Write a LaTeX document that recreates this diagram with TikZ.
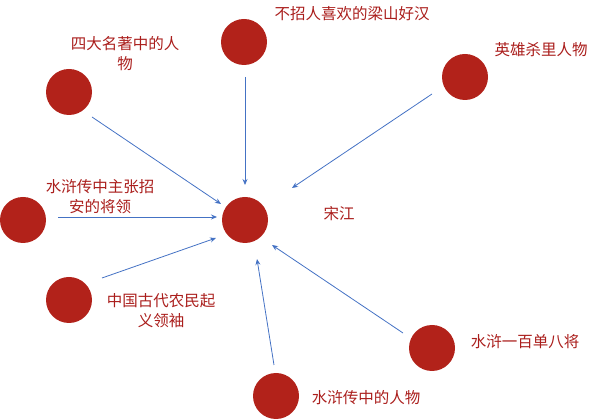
\documentclass[tikz,border=0pt]{standalone}
\usepackage{fontspec}
\setmainfont{Noto Sans CJK SC}
\usetikzlibrary{arrows.meta}
\definecolor{dotred}{RGB}{178,34,26}
\definecolor{txtred}{RGB}{170,30,28}
\definecolor{arrblue}{RGB}{68,114,196}
\begin{document}
\begin{tikzpicture}[x=1pt,y=-1pt,
  dot/.style={circle,fill=dotred,minimum size=46pt,inner sep=0pt},
  lbl/.style={text=txtred,font=\fontsize{15.5}{20}\selectfont,inner sep=0pt,align=center},
  conn/.style={draw=arrblue,line width=0.8pt,-{Stealth[length=6pt,width=5pt]}}]
\useasboundingbox (0,0) rectangle (611,419);
% circles
\node[dot] (c0) at (245,220) {};
\node[dot] (c1) at (69,92) {};
\node[dot] (c2) at (244,42) {};
\node[dot] (c3) at (465,77) {};
\node[dot] (c4) at (23,220) {};
\node[dot] (c5) at (69,300) {};
\node[dot] (c6) at (276,396) {};
\node[dot] (c7) at (432,348) {};
% labels
\node[lbl] (t0) at (339,214) {宋江};
\node[lbl] (t1) at (125,54) {四大名著中的人\\物};
\node[lbl] (t2) at (352,14) {不招人喜欢的梁山好汉};
\node[lbl] (t3) at (541,50) {英雄杀里人物};
\node[lbl] (t4) at (100,197) {水浒传中主张招\\安的将领};
\node[lbl] (t5) at (161,311) {中国古代农民起\\义领袖};
\node[lbl] (t6) at (366,398) {水浒传中的人物};
\node[lbl] (t7) at (525,342) {水浒一百单八将};
% connector ends
\coordinate (s1) at (92,117);  \coordinate (e1) at (221,204);
\coordinate (s2) at (245,77);  \coordinate (e2) at (245,185);
\coordinate (s3) at (432,94);  \coordinate (e3) at (292,188);
\coordinate (s4) at (58,217);  \coordinate (e4) at (217,217);
\coordinate (s5) at (102,278); \coordinate (e5) at (216,238);
\coordinate (s6) at (274,365); \coordinate (e6) at (257,259);
\coordinate (s7) at (403,333); \coordinate (e7) at (272,245);
\foreach \i in {1,...,7}{\draw[conn] (s\i) -- (e\i);}
\end{tikzpicture}
\end{document}
